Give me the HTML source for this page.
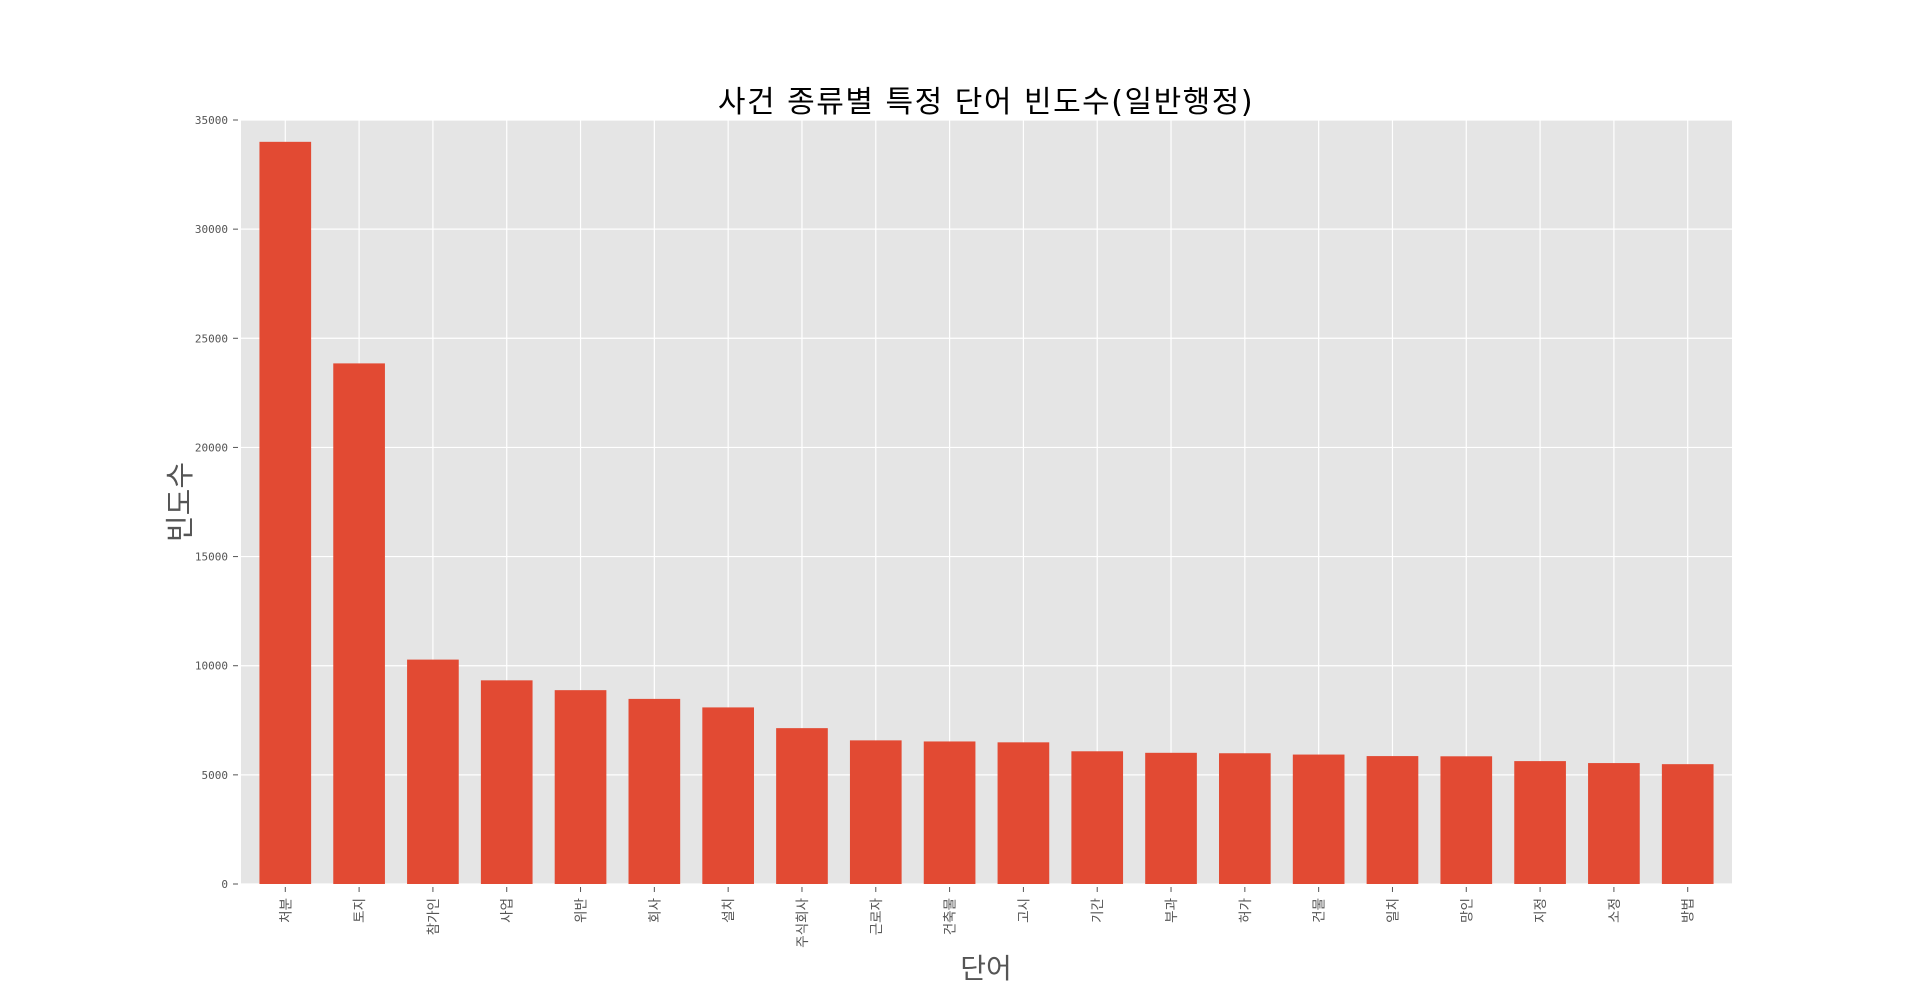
<!DOCTYPE html>
<html><head><meta charset="utf-8"><style>
html,body{margin:0;padding:0;background:#fff;}
svg{display:block;}
text{font-family:"DejaVu Sans Mono","Liberation Mono","Noto Sans CJK KR",monospace;}
.k{font-family:"DejaVu Sans","Noto Sans CJK KR","NanumGothic",sans-serif;}
</style></head><body>
<svg id="chart" width="1923" height="993" viewBox="0 0 1923 993" xmlns="http://www.w3.org/2000/svg">
<rect x="241" y="120" width="1491" height="764" fill="#E5E5E5"/>
<g id="grid"></g>
<g id="bars"></g>
<g id="yaxis"></g>
<g id="xaxis"></g>
<text class="k" x="986" y="112" font-size="30" letter-spacing="1.5" text-anchor="middle" fill="#000">사건 종류별 특정 단어 빈도수(일반행정)</text>
<text class="k" x="0" y="0" font-size="29" text-anchor="middle" fill="#555" transform="translate(190,502) rotate(-90)">빈도수</text>
<text class="k" x="986" y="978" font-size="28" text-anchor="middle" fill="#555">단어</text>
</svg>
<script>
const categories = ["처분","토지","참가인","사업","위반","회사","설치","주식회사","근로자","건축물","고시","기간","부과","허가","건물","일치","망인","지정","소정","방법"];
const values = [34000,23850,10280,9330,8880,8480,8090,7140,6580,6530,6490,6080,6010,5990,5930,5860,5850,5630,5540,5490];
const yTicks = [0,5000,10000,15000,20000,25000,30000,35000];

const NS="http://www.w3.org/2000/svg";
const L=241,R=1732,T=120,B=884;
const yMax=35000;
const xMin=-0.6,xMax=categories.length-1+0.6;
function xs(i){return L+(i-xMin)/(xMax-xMin)*(R-L);}
function ys(v){return B-v/yMax*(B-T);}
const unit=(R-L)/(xMax-xMin);
function mk(tag,attrs,parent){const e=document.createElementNS(NS,tag);for(const k in attrs)e.setAttribute(k,attrs[k]);parent.appendChild(e);return e;}
const grid=document.getElementById('grid'),bars=document.getElementById('bars'),ya=document.getElementById('yaxis'),xa=document.getElementById('xaxis');

yTicks.forEach(v=>{
  const y=ys(v);
  const g=mk('line',{x1:L,x2:R,y1:y,y2:y,stroke:'#fff','stroke-width':1.2},grid);
  
  
  const t=mk('line',{x1:L-8,x2:L-3,y1:y,y2:y,stroke:'#555','stroke-width':1},ya);
  
  
  const tx=mk('text',{x:L-13,y:y+4,'font-size':11,'text-anchor':'end',fill:'#555'},ya);
  tx.textContent=String(v);
  
  
});
categories.forEach((c,i)=>{
  const x=xs(i);
  const g=mk('line',{x1:x,x2:x,y1:T,y2:B,stroke:'#fff','stroke-width':1.2},grid);
  
  
  const w=unit*0.7;
  const b=mk('rect',{x:x-w/2,y:ys(values[i]),width:w,height:B-ys(values[i]),fill:'#E24A33'},bars);
  
  
  const t=mk('line',{x1:x,x2:x,y1:B+3,y2:B+8,stroke:'#555','stroke-width':1},xa);
  
  
  const tx=mk('text',{'font-size':13.5,'text-anchor':'end',fill:'#555',class:'k',transform:'translate('+(x+5)+','+(B+14)+') rotate(-90)'},xa);
  tx.textContent=c;
  
  
});
</script>
</body></html>
